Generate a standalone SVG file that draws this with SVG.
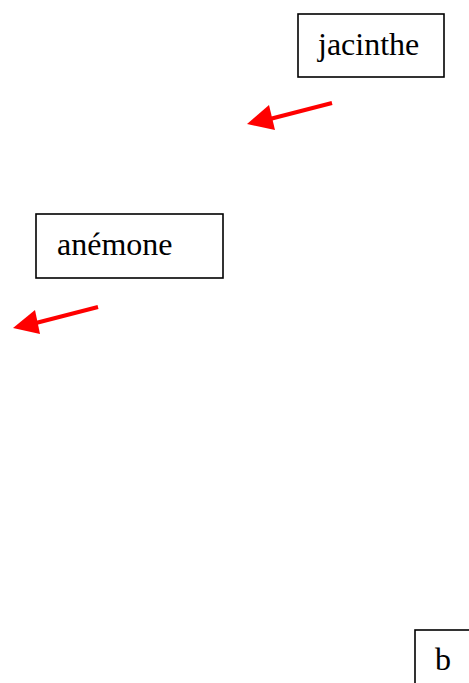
<svg xmlns="http://www.w3.org/2000/svg" width="469" height="683" viewBox="0 0 469 683">
<style>
.box{fill:#fff;stroke:#000;stroke-width:1.6}
.lbl{font-family:"Liberation Serif","Times New Roman",serif;font-size:32px;fill:#000}
.edge{stroke:#ff0000;stroke-width:4;fill:none}
.head{fill:#ff0000}
</style>
<rect width="469" height="683" fill="#fff"/>
<g id="jacinthe">
<rect class="box" x="298" y="14" width="146" height="63"/>
<text class="lbl" x="318" y="55">jacinthe</text>
</g>
<g id="anemone">
<rect class="box" x="36" y="214" width="187" height="64"/>
<text class="lbl" x="57" y="255">anémone</text>
</g>
<g id="b">
<rect class="box" x="415" y="630" width="60" height="60"/>
<text class="lbl" x="435" y="670">b</text>
</g>
<g id="connectors">
<line class="edge" x1="332" y1="103" x2="266" y2="120"/>
<polygon class="head" points="247,124 269,105 275,130"/>
<line class="edge" x1="98" y1="307" x2="32" y2="324"/>
<polygon class="head" points="13,328 35,310 40,334"/>
</g>
</svg>
